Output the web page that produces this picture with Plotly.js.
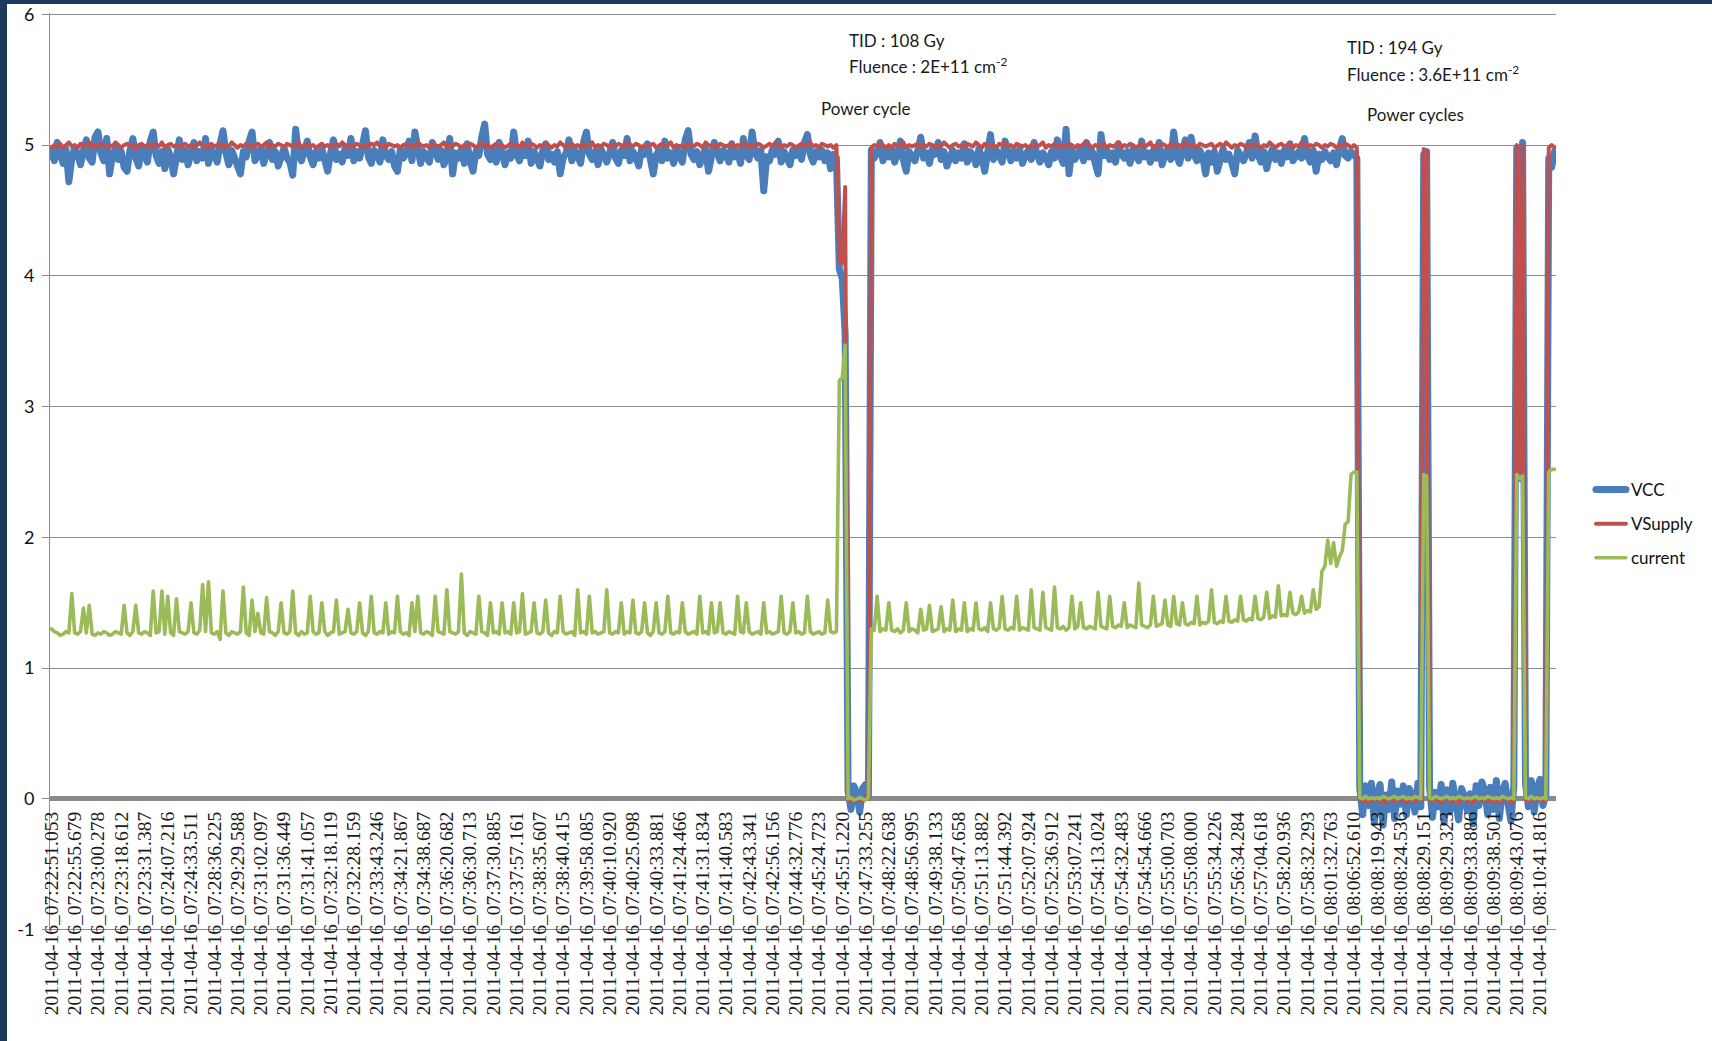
<!DOCTYPE html>
<html>
<head>
<meta charset="utf-8">
<script src="https://cdn.plot.ly/plotly-3.0.1.min.js"></script>
<style>
  html, body { margin: 0; padding: 0; width: 1712px; height: 1041px; overflow: hidden; background: #1c3a5c; }
  #chart { position: absolute; left: 7px; top: 4px; width: 1705px; height: 1037px; background: #ffffff; }
  .scatterlayer path.js-line, .legend path.js-line { stroke-linejoin: round; stroke-linecap: round; }
</style>
</head>
<body>
<div id="chart"></div>
<script>
// Category (time-stamp) labels shown on the x axis, one every `labelEvery` samples
const timeLabels = [
  "2011-04-16_07:22:51.053","2011-04-16_07:22:55.679","2011-04-16_07:23:00.278","2011-04-16_07:23:18.612",
  "2011-04-16_07:23:31.387","2011-04-16_07:24:07.216","2011-04-16_07:24:33.511","2011-04-16_07:28:36.225",
  "2011-04-16_07:29:29.588","2011-04-16_07:31:02.097","2011-04-16_07:31:36.449","2011-04-16_07:31:41.057",
  "2011-04-16_07:32:18.119","2011-04-16_07:32:28.159","2011-04-16_07:33:43.246","2011-04-16_07:34:21.867",
  "2011-04-16_07:34:38.687","2011-04-16_07:36:20.682","2011-04-16_07:36:30.713","2011-04-16_07:37:30.885",
  "2011-04-16_07:37:57.161","2011-04-16_07:38:35.607","2011-04-16_07:38:40.415","2011-04-16_07:39:58.085",
  "2011-04-16_07:40:10.920","2011-04-16_07:40:25.098","2011-04-16_07:40:33.881","2011-04-16_07:41:24.466",
  "2011-04-16_07:41:31.834","2011-04-16_07:41:40.583","2011-04-16_07:42:43.341","2011-04-16_07:42:56.156",
  "2011-04-16_07:44:32.776","2011-04-16_07:45:24.723","2011-04-16_07:45:51.220","2011-04-16_07:47:33.255",
  "2011-04-16_07:48:22.638","2011-04-16_07:48:56.995","2011-04-16_07:49:38.133","2011-04-16_07:50:47.658",
  "2011-04-16_07:51:13.882","2011-04-16_07:51:44.392","2011-04-16_07:52:07.924","2011-04-16_07:52:36.912",
  "2011-04-16_07:53:07.241","2011-04-16_07:54:13.024","2011-04-16_07:54:32.483","2011-04-16_07:54:54.666",
  "2011-04-16_07:55:00.703","2011-04-16_07:55:08.000","2011-04-16_07:55:34.226","2011-04-16_07:56:34.284",
  "2011-04-16_07:57:04.618","2011-04-16_07:58:20.936","2011-04-16_07:58:32.293","2011-04-16_08:01:32.763",
  "2011-04-16_08:06:52.610","2011-04-16_08:08:19.943","2011-04-16_08:08:24.536","2011-04-16_08:08:29.151",
  "2011-04-16_08:09:29.323","2011-04-16_08:09:33.886","2011-04-16_08:09:38.501","2011-04-16_08:09:43.076",
  "2011-04-16_08:10:41.816"
];
const labelEvery = 8;
const yTicks = [-1, 0, 1, 2, 3, 4, 5, 6];

// VCC samples (V)
const vcc = [
4.95,4.88,5.02,4.92,4.86,4.97,4.72,4.9,
4.98,4.93,4.85,4.96,5.04,4.9,4.87,5.06,
5.1,4.94,4.88,5.05,4.78,4.92,4.97,4.89,
4.95,4.83,4.8,4.96,5.05,4.9,4.84,4.98,
4.93,4.87,5.03,5.1,4.92,4.86,4.95,4.82,
4.97,4.91,4.78,4.94,5.04,4.89,4.96,4.85,
4.93,5.02,4.88,4.95,4.9,5.05,4.86,4.97,
4.92,4.87,5.01,5.11,4.94,4.85,4.96,4.9,
4.83,4.78,4.95,4.91,5.03,5.1,4.88,4.94,
4.97,4.86,4.93,5.02,4.89,4.95,4.84,4.92,
4.98,4.9,4.87,4.77,5.12,4.93,4.88,4.96,
5.03,4.91,4.85,4.95,4.9,4.97,4.86,4.8,
4.94,5.04,4.89,4.93,4.87,4.98,4.92,5.05,
4.88,4.95,4.9,5.02,5.11,4.91,4.86,4.96,
4.93,4.87,5.04,4.92,4.89,4.95,4.84,4.8,
4.97,4.9,4.93,5.03,4.88,5.1,4.94,4.86,
4.95,4.91,4.87,5.02,4.93,4.89,4.96,4.85,
4.92,5.05,4.78,4.94,4.9,4.97,4.86,5.01,
4.88,4.8,4.95,4.92,5.06,5.16,4.93,4.89,
4.96,4.87,5.02,4.91,4.85,4.94,4.9,5.1,
4.93,4.88,4.97,4.92,5.03,4.86,4.95,4.9,
4.84,4.96,5.01,4.89,4.93,4.87,4.95,4.78,
4.9,4.94,5.04,4.88,4.96,4.92,4.86,5.02,
5.1,4.93,4.89,4.95,4.85,4.97,4.91,4.87,
4.94,5.02,4.9,4.86,4.96,4.92,5.05,4.88,
4.95,4.91,4.84,4.97,4.93,5.01,4.89,4.78,
4.92,4.96,4.88,5.03,4.9,4.94,4.86,4.97,
4.91,4.87,5.04,5.11,4.93,4.89,4.95,4.85,
4.92,4.97,4.8,4.9,5.02,4.94,4.88,4.96,
4.93,4.87,5.01,4.91,4.95,4.86,5.05,4.92,
4.89,5.1,4.94,4.9,4.96,4.65,4.91,4.88,
4.97,4.93,5.03,4.87,4.95,4.9,4.85,4.96,
4.92,4.98,4.89,5.02,5.08,4.93,4.87,4.95,
4.91,4.96,4.88,4.94,4.82,4.93,4.9,4.05,
3.98,3.55,0.06,-0.08,0.1,0.04,-0.1,0.08,
0.11,0.02,4.96,4.9,4.94,5.02,4.88,4.95,
4.91,4.97,4.87,4.93,5.03,4.89,4.8,4.95,
4.92,4.88,4.96,5.06,4.9,4.94,4.86,4.97,
4.93,5.02,4.89,4.95,4.84,4.91,4.96,4.88,
4.94,4.9,5.01,4.87,4.95,4.92,4.85,4.97,
4.91,4.8,4.94,5.08,4.89,4.96,4.92,4.87,
5.03,4.93,4.88,4.95,4.9,4.97,4.86,4.92,
4.96,4.89,5.02,4.93,4.87,4.94,4.91,4.85,
4.95,4.9,5.04,4.92,4.86,5.12,4.78,4.96,
4.89,4.93,4.97,4.88,5.02,4.91,4.95,4.86,
4.78,5.08,4.92,4.96,4.89,4.94,4.87,5.01,
4.93,4.9,4.95,4.86,4.97,4.92,4.88,5.03,
4.91,4.94,4.87,4.96,4.9,5.02,4.85,4.93,
4.97,4.89,5.1,4.92,4.86,4.95,5.04,4.9,
5.06,4.93,4.88,4.96,4.91,4.78,4.94,4.87,
4.95,4.8,4.92,4.97,4.89,4.93,4.86,4.78,
4.96,4.91,4.88,4.94,5.02,4.9,5.07,4.93,
4.87,4.95,4.82,4.92,4.97,4.89,4.94,4.86,
4.96,4.91,5.01,4.88,4.93,4.95,4.9,5.05,
4.92,4.87,4.96,4.8,4.93,4.89,4.95,4.91,
4.88,4.94,4.85,4.97,5.05,4.92,4.9,4.95,
4.93,4.9,0.08,-0.12,0.1,-0.05,0.12,-0.18,
0.05,0.11,-0.2,0.03,-0.08,0.13,-0.15,0.06,
-0.04,0.1,-0.12,0.08,0.02,-0.1,0.12,-0.06,
4.93,4.95,0.09,-0.14,0.05,-0.06,0.11,-0.18,
0.07,-0.1,0.12,-0.03,-0.16,0.08,0.02,-0.09,
0.04,-0.19,0.1,-0.05,0.13,0.06,-0.12,0.09,
-0.08,0.14,-0.15,0.05,0.12,-0.04,-0.17,0.1,
4.98,2.45,5.02,0.12,-0.06,0.14,-0.1,0.08,
0.15,-0.05,0.03,4.9,4.83,4.95
];

// VSupply samples (V)
const vsupply = [
4.98,5.0,4.99,5.01,4.98,5.0,5.02,4.99,
5.0,4.98,5.01,4.99,5.0,5.02,4.98,5.0,
4.99,5.01,5.0,4.98,5.0,4.99,5.02,5.0,
4.98,5.0,5.01,4.99,5.0,4.97,5.0,5.01,
4.99,5.0,4.98,5.01,5.0,4.99,5.02,4.98,
5.0,5.01,4.99,5.0,4.98,5.0,5.01,4.99,
5.0,4.98,5.0,5.02,4.99,5.0,4.98,5.01,
4.99,5.0,5.01,4.98,5.0,4.99,5.02,5.0,
4.98,5.0,4.99,5.01,5.0,4.98,5.0,5.01,
4.99,5.0,5.02,4.98,5.0,4.99,5.01,5.0,
4.98,5.01,5.0,4.99,5.0,5.02,4.98,5.0,
5.01,4.99,5.0,4.98,5.0,5.01,4.99,5.0,
4.98,5.0,5.01,4.99,5.02,5.0,4.98,5.0,
4.99,5.01,5.0,4.98,5.0,4.99,5.01,5.0,
5.02,4.99,5.0,4.98,5.01,5.0,4.99,5.0,
4.98,5.0,5.01,4.99,5.0,4.98,5.02,5.0,
4.99,5.0,4.98,5.01,5.0,4.99,5.0,5.02,
4.98,5.0,4.99,5.01,5.0,4.98,5.0,4.99,
5.01,5.0,4.98,5.0,5.02,4.99,5.0,4.98,
5.0,5.01,4.99,5.0,4.98,5.0,5.01,4.99,
5.0,4.98,5.02,5.0,4.99,5.01,5.0,4.98,
5.0,4.99,5.01,5.0,4.98,5.0,4.99,5.02,
5.0,4.98,5.0,5.01,4.99,5.0,4.98,5.01,
4.99,5.0,5.02,4.98,5.0,4.99,5.01,5.0,
4.98,5.0,4.99,5.01,5.0,4.98,5.02,5.0,
4.99,5.01,5.0,4.98,5.0,4.99,5.0,5.01,
4.98,5.0,5.01,4.99,5.0,5.02,4.98,5.0,
4.99,5.0,4.98,5.01,5.0,4.99,5.01,5.0,
4.98,5.02,5.0,4.99,5.0,4.98,5.01,5.0,
4.99,5.0,5.01,4.98,5.0,4.99,5.02,5.0,
4.98,5.0,4.99,5.01,5.0,4.98,5.0,5.01,
4.99,5.02,5.0,4.98,5.0,4.99,5.01,5.0,
4.98,5.0,5.01,4.99,5.0,5.02,4.99,5.0,
4.98,5.01,5.0,4.99,5.0,4.98,5.0,4.1,
4.1,4.68,0.0,-0.02,0.01,-0.01,0.0,-0.02,
0.01,0.0,4.98,5.0,4.99,5.01,5.0,4.98,
5.0,4.98,5.01,4.99,5.0,5.02,4.98,5.0,
4.99,5.0,5.01,4.98,5.0,4.99,5.01,5.0,
4.98,5.0,4.99,5.02,5.0,4.98,5.0,5.01,
4.99,5.0,4.98,5.01,5.0,4.99,5.02,5.0,
4.98,5.01,5.0,4.99,5.0,4.98,5.01,5.0,
5.02,4.99,5.0,4.98,5.01,5.0,4.99,5.0,
4.98,5.0,5.01,4.99,5.0,5.02,4.98,5.0,
4.99,5.01,5.0,4.98,5.0,4.99,5.01,5.0,
4.98,5.0,4.99,5.01,5.02,5.0,4.98,5.0,
4.99,5.0,5.01,4.98,5.0,4.99,5.0,5.02,
4.98,5.0,4.99,5.01,5.0,4.98,5.0,5.01,
4.99,5.0,5.02,4.98,5.0,4.99,5.01,5.0,
4.98,5.01,5.0,4.99,5.0,4.98,5.02,5.0,
4.99,5.0,4.98,5.01,5.0,4.99,5.0,5.01,
4.98,5.0,5.01,4.99,5.02,5.0,4.98,5.0,
4.99,5.01,5.0,4.98,5.0,4.99,5.01,5.0,
4.98,5.0,4.99,5.02,5.0,4.98,5.0,5.01,
4.99,5.0,5.01,4.98,5.0,4.99,5.02,5.0,
4.98,5.0,4.99,5.01,5.0,4.98,5.0,4.99,
5.01,5.0,4.98,5.0,4.99,5.01,5.0,4.98,
5.0,4.98,0.0,-0.02,0.01,-0.03,0.0,-0.01,
0.01,-0.02,0.0,-0.03,0.01,0.0,-0.02,0.0,
-0.01,0.01,-0.03,0.0,0.01,-0.02,0.0,-0.01,
4.97,4.95,0.0,-0.02,0.01,-0.01,-0.03,0.0,
0.01,-0.02,0.0,-0.01,-0.03,0.01,0.0,-0.02,
0.0,-0.03,0.01,-0.01,0.0,0.01,-0.02,0.0,
-0.02,0.01,-0.03,0.0,0.01,-0.01,-0.03,0.0,
5.0,2.5,5.0,0.0,-0.02,0.01,-0.01,0.0,
0.01,-0.02,0.0,4.98,5.0,4.98
];

// current samples (A)
const current = [
1.3,1.28,1.27,1.25,1.26,1.28,1.27,1.57,
1.27,1.26,1.28,1.46,1.27,1.48,1.26,1.25,
1.27,1.26,1.28,1.27,1.25,1.26,1.28,1.27,
1.26,1.48,1.27,1.25,1.28,1.48,1.27,1.26,
1.28,1.27,1.25,1.59,1.27,1.28,1.59,1.26,
1.55,1.27,1.25,1.53,1.28,1.27,1.26,1.28,
1.5,1.27,1.26,1.29,1.64,1.28,1.66,1.27,
1.26,1.28,1.22,1.59,1.27,1.25,1.28,1.27,
1.26,1.28,1.62,1.27,1.25,1.52,1.28,1.42,
1.27,1.26,1.54,1.28,1.27,1.25,1.28,1.5,
1.27,1.26,1.28,1.59,1.27,1.25,1.28,1.26,
1.27,1.55,1.28,1.26,1.27,1.5,1.28,1.25,
1.27,1.28,1.52,1.26,1.27,1.28,1.45,1.27,
1.26,1.28,1.5,1.27,1.25,1.28,1.55,1.27,
1.26,1.28,1.27,1.5,1.26,1.28,1.27,1.55,
1.28,1.26,1.27,1.25,1.5,1.28,1.55,1.27,
1.26,1.28,1.27,1.25,1.55,1.28,1.27,1.26,
1.6,1.28,1.27,1.26,1.28,1.72,1.27,1.25,
1.28,1.27,1.26,1.55,1.28,1.27,1.25,1.5,
1.27,1.28,1.26,1.5,1.27,1.28,1.26,1.5,
1.27,1.28,1.57,1.26,1.27,1.28,1.5,1.27,
1.26,1.28,1.52,1.27,1.25,1.28,1.27,1.55,
1.28,1.26,1.27,1.28,1.25,1.6,1.27,1.28,
1.26,1.55,1.27,1.28,1.26,1.27,1.28,1.6,
1.27,1.26,1.28,1.27,1.5,1.26,1.28,1.27,
1.52,1.27,1.26,1.28,1.5,1.27,1.25,1.28,
1.5,1.27,1.26,1.28,1.55,1.27,1.26,1.28,
1.27,1.5,1.28,1.26,1.27,1.28,1.26,1.55,
1.27,1.28,1.26,1.5,1.27,1.28,1.5,1.27,
1.26,1.28,1.27,1.26,1.55,1.28,1.27,1.5,
1.28,1.26,1.27,1.28,1.26,1.5,1.27,1.28,
1.26,1.27,1.28,1.55,1.27,1.26,1.28,1.5,
1.27,1.28,1.26,1.27,1.55,1.28,1.26,1.27,
1.28,1.26,1.27,1.52,1.28,1.27,1.28,3.2,
3.22,3.47,0.0,0.01,-0.01,0.0,0.01,0.0,
-0.01,0.01,1.3,1.29,1.55,1.28,1.3,1.29,
1.5,1.29,1.28,1.3,1.27,1.29,1.5,1.28,
1.3,1.29,1.27,1.45,1.29,1.3,1.48,1.28,
1.29,1.3,1.47,1.28,1.3,1.29,1.52,1.28,
1.3,1.29,1.5,1.28,1.3,1.29,1.5,1.3,
1.29,1.31,1.28,1.5,1.3,1.29,1.31,1.55,
1.3,1.29,1.31,1.3,1.55,1.29,1.31,1.3,
1.29,1.6,1.31,1.3,1.29,1.58,1.31,1.3,
1.29,1.62,1.31,1.3,1.32,1.29,1.31,1.55,
1.3,1.32,1.5,1.31,1.3,1.32,1.31,1.3,
1.58,1.32,1.31,1.3,1.55,1.32,1.31,1.33,
1.32,1.5,1.31,1.33,1.32,1.31,1.65,1.33,
1.32,1.31,1.33,1.55,1.32,1.33,1.34,1.52,
1.33,1.32,1.55,1.34,1.33,1.5,1.34,1.33,
1.35,1.34,1.55,1.33,1.35,1.34,1.36,1.6,
1.35,1.34,1.36,1.35,1.55,1.36,1.35,1.37,
1.36,1.55,1.37,1.36,1.38,1.37,1.55,1.38,
1.37,1.39,1.58,1.38,1.4,1.39,1.63,1.4,
1.41,1.4,1.58,1.42,1.41,1.43,1.55,1.42,
1.44,1.43,1.6,1.45,1.47,1.74,1.78,1.98,
1.8,1.96,1.78,1.85,1.9,2.1,2.12,2.48,
2.5,2.5,0.01,0.0,0.02,0.0,0.01,0.0,
0.01,0.0,0.02,0.01,0.0,0.01,0.02,0.0,
0.01,0.02,0.0,0.01,0.0,0.02,0.01,0.0,
2.48,2.47,0.01,0.0,0.02,0.01,0.0,0.01,
0.02,0.0,0.01,0.0,0.02,0.01,0.0,0.01,
0.0,0.01,0.02,0.0,0.01,0.0,0.02,0.01,
0.0,0.01,0.0,0.02,0.01,0.0,0.01,0.0,
2.48,2.45,2.47,0.01,0.0,0.02,0.0,0.01,
0.0,0.01,0.0,2.5,2.52,2.52
];

const sampleIndex = vcc.map((_, i) => i);
const tickPositions = timeLabels.map((_, i) => i * labelEvery);
const yRange = [-1.01, 6.01];

const traces = [
  { name: 'VCC', x: sampleIndex, y: vcc, type: 'scatter', mode: 'lines',
    line: { color: '#4a7ebb', width: 7 }, legendgroup: 'a', hoverinfo: 'skip' },
  { name: 'VSupply', x: sampleIndex, y: vsupply, type: 'scatter', mode: 'lines',
    line: { color: '#c0504d', width: 4 }, legendgroup: 'b', hoverinfo: 'skip' },
  { name: 'current', x: sampleIndex, y: current, type: 'scatter', mode: 'lines',
    line: { color: '#9bbb59', width: 3.6 }, legendgroup: 'c', hoverinfo: 'skip' }
];

const annFont = { family: 'Lato, sans-serif', size: 17, color: '#1a1a1a' };
function note(text, x, y) {
  return { text: text, xref: 'paper', yref: 'paper', x: x, y: y,
           xanchor: 'left', yanchor: 'middle', showarrow: false, font: annFont };
}

const layout = {
  width: 1705, height: 1037,
  margin: { l: 43, r: 156, t: 9, b: 110 },
  paper_bgcolor: '#ffffff', plot_bgcolor: '#ffffff',
  showlegend: true,
  xaxis: {
    type: 'linear', range: [-0.5, vcc.length - 0.5],
    tickmode: 'array', tickvals: tickPositions, ticktext: timeLabels,
    tickangle: -90, ticks: '', showgrid: false, zeroline: false, showline: false,
    anchor: 'free', position: (0 - yRange[0]) / (yRange[1] - yRange[0]),
    ticklabelstandoff: 8, ticklabeloverflow: 'allow',
    tickfont: { family: 'Liberation Serif, serif', size: 19.5, color: '#1a1a1a' }
  },
  yaxis: {
    range: yRange, tickmode: 'array', tickvals: yTicks,
    ticktext: yTicks.map(String), ticklabeloverflow: 'allow',
    showgrid: true, gridcolor: '#8c8c8c', gridwidth: 1,
    zeroline: true, zerolinecolor: '#8a8a8a', zerolinewidth: 5,
    showline: true, linecolor: '#8c8c8c', linewidth: 1,
    ticks: 'outside', ticklen: 7, tickcolor: '#8c8c8c', tickwidth: 1,
    ticklabelstandoff: 4,
    tickfont: { family: 'Lato, sans-serif', size: 18, color: '#111111' }
  },
  legend: {
    x: 1.0232, xanchor: 'left', y: 0.5, yanchor: 'top',
    font: { family: 'Lato, sans-serif', size: 17, color: '#111111' },
    bgcolor: 'rgba(0,0,0,0)', tracegroupgap: 9, traceorder: 'grouped'
  },
  annotations: [
    note('TID : 108 Gy', 0.5292, 0.9695),
    note('Fluence : 2E+11 cm<sup>-2</sup>', 0.5292, 0.9423),
    note('Power cycle', 0.5106, 0.8965),
    note('TID : 194 Gy', 0.8599, 0.9619),
    note('Fluence : 3.6E+11 cm<sup>-2</sup>', 0.8599, 0.9346),
    note('Power cycles', 0.8732, 0.8889)
  ]
};

Plotly.newPlot('chart', traces, layout, { displayModeBar: false, responsive: false });
</script>
</body>
</html>
